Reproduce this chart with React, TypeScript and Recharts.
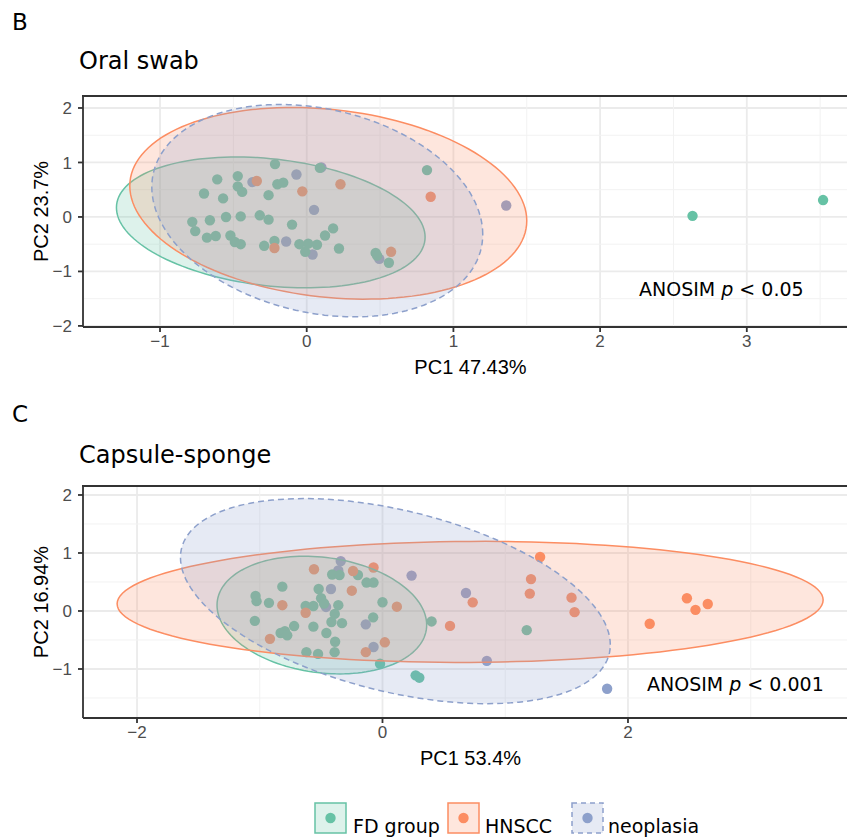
import React from "react";
import { ScatterChart, Scatter, XAxis, YAxis, CartesianGrid, ReferenceLine } from "recharts";

type Pt = [number, number];

const groupNames = ["FD group", "HNSCC", "neoplasia"];
const groupColors = ["#66c2a5", "#fc8d62", "#8da0cb"];

// Panel B - oral swab
const oralFD: Pt[] = [
  [-0.216, 0.97], [0.09, 0.9], [0.82, 0.86], [-0.61, 0.69], [-0.47, 0.75], [-0.47, 0.56],
  [-0.44, 0.46], [-0.7, 0.43], [-0.57, 0.34], [-0.26, 0.4], [-0.2, 0.6], [-0.16, 0.63],
  [-0.78, -0.09], [-0.76, -0.26], [-0.66, -0.06], [-0.55, 0.0], [-0.45, 0.01], [-0.32, 0.03],
  [-0.26, -0.05], [-0.68, -0.38], [-0.62, -0.35], [-0.52, -0.34], [-0.49, -0.46], [-0.45, -0.5],
  [-0.29, -0.53], [-0.22, -0.44], [-0.1, -0.14], [-0.05, -0.5], [0.01, -0.49], [0.07, -0.51],
  [-0.01, -0.64], [0.125, -0.34], [0.18, -0.21], [0.22, -0.58], [0.47, -0.66], [0.48, -0.71],
  [0.56, -0.84], [2.63, 0.02], [3.52, 0.31],
];
const oralHNSCC: Pt[] = [
  [-0.34, 0.66], [-0.03, 0.47], [0.23, 0.6], [0.845, 0.37], [-0.22, -0.57], [0.575, -0.64],
];
const oralNeo: Pt[] = [
  [-0.37, 0.64], [-0.07, 0.78], [0.05, 0.13], [-0.14, -0.45], [0.04, -0.69], [0.495, -0.77],
  [0.1, 0.91], [1.36, 0.21],
];
// ellipses: centre, right-most vertex, point straight above centre
const oralEllFD: Pt[] = [[-0.245, -0.1], [0.807, -0.37], [-0.245, 1.07]];
const oralEllHNSCC: Pt[] = [[0.147, 0.25], [1.5, -0.07], [0.147, 1.98]];
const oralEllNeo: Pt[] = [[0.072, 0.115], [1.2, -0.32], [0.072, 2.015]];

// Panel C - capsule-sponge
const capFD: Pt[] = [
  [-0.816, 0.42], [-1.034, 0.26], [-1.026, 0.17], [-0.925, 0.14], [-1.04, -0.17], [-0.83, -0.38],
  [-0.795, -0.35], [-0.776, -0.42], [-0.72, -0.26], [-0.626, 0.086], [-0.563, 0.086], [-0.52, 0.38],
  [-0.5, 0.22], [-0.476, 0.13], [-0.563, -0.27], [-0.457, -0.38], [-0.416, -0.19], [-0.389, -0.05],
  [-0.36, 0.1], [-0.386, -0.53], [-0.39, -0.71], [-0.33, -0.21], [-0.41, 0.63], [-0.35, 0.62],
  [-0.2, 0.62], [-0.13, 0.49], [-0.073, 0.49], [0.0, 0.15], [-0.076, -0.11], [-0.62, -0.71],
  [-0.525, -0.74], [-0.02, -0.91], [0.27, -1.11], [0.3, -1.15], [0.4, -0.18], [1.175, -0.33],
];
const capHNSCC: Pt[] = [
  [-0.558, 0.72], [-0.816, 0.1], [-0.626, -0.03], [-0.917, -0.48], [-0.24, 0.69], [-0.073, 0.75],
  [-0.25, 0.35], [0.117, 0.074], [-0.136, -0.71], [0.019, -0.54], [0.735, 0.149], [0.55, -0.257],
  [1.284, 0.93], [1.21, 0.55], [1.2, 0.3], [1.54, 0.23], [1.565, -0.02], [2.177, -0.22],
  [2.48, 0.22], [2.55, 0.02], [2.65, 0.12],
];
const capNeo: Pt[] = [
  [-0.34, 0.86], [-0.36, 0.7], [-0.42, 0.38], [-0.46, 0.07], [-0.136, -0.23], [-0.073, -0.62],
  [0.237, 0.61], [0.68, 0.31], [0.85, -0.86], [1.83, -1.34],
];
const capEllFD: Pt[] = [[-0.494, -0.07], [0.36, -0.24], [-0.494, 0.93]];
const capEllHNSCC: Pt[] = [[0.714, 0.157], [3.59, 0.19], [0.714, 1.2]];
const capEllNeo: Pt[] = [[0.105, 0.17], [1.856, -0.583], [0.105, 1.77]];

const oralXTicks = [-1, 0, 1, 2, 3];
const oralXMinor = [-0.5, 0.5, 1.5, 2.5, 3.5];
const oralYTicks = [-2, -1, 0, 1, 2];
const oralYMinor = [-1.5, -0.5, 0.5, 1.5];
const capXTicks = [-2, 0, 2];
const capXMinor = [-1, 1, 3];
const capYTicks = [-1, 0, 1, 2];
const capYMinor = [-1.5, -0.5, 0.5, 1.5];

const rows = (pts: Pt[]) => pts.map(([x, y]) => ({ x, y }));
const minus = (v: number) => String(v).replace("-", "\u2212");
const axisFont = "Liberation Sans, Arial, sans-serif";
const textFont = "DejaVu Sans, Verdana, sans-serif";

const dot = (color: string) => (p: any) => (
  <circle cx={p.cx} cy={p.cy} r={5.2} fill={color} />
);

const ellipseLine = (color: string, dashed: boolean) => (p: any) => {
  const pts = p.points;
  if (!pts || pts.length < 3) return <g />;
  const [c, r, t] = pts;
  const ux = r.x - c.x, uy = r.y - c.y, vx = t.x - c.x, vy = t.y - c.y;
  let d = "";
  for (let i = 0; i <= 144; i++) {
    const a = (i / 144) * Math.PI * 2;
    const x = c.x + ux * Math.cos(a) + vx * Math.sin(a);
    const y = c.y + uy * Math.cos(a) + vy * Math.sin(a);
    d += (i === 0 ? "M" : "L") + x.toFixed(2) + "," + y.toFixed(2);
  }
  return (
    <path
      d={d + "Z"}
      fill={color}
      fillOpacity={0.22}
      stroke={color}
      strokeWidth={1.5}
      strokeDasharray={dashed ? "6 4" : undefined}
    />
  );
};

const yTitle = (text: string) => (props: any) => {
  const vb = props.viewBox || {};
  const y = (vb.y ?? 0) + (vb.height ?? 0) / 2;
  return (
    <text x={41} y={y} transform={`rotate(-90, 41, ${y})`} textAnchor="middle"
      dominantBaseline="central" fontFamily={axisFont} fontSize={20} fill="#000">
      {text}
    </text>
  );
};

const xTitle = (text: string) => (props: any) => {
  const vb = props.viewBox || {};
  return (
    <text x={(vb.x ?? 0) + (vb.width ?? 0) / 2} y={(vb.y ?? 0) + 47} textAnchor="middle"
      fontFamily={axisFont} fontSize={20} fill="#000">
      {text}
    </text>
  );
};

type PanelProps = {
  top: number;
  height: number;
  marginTop: number;
  marginBottom: number;
  xDomain: [number, number];
  yDomain: [number, number];
  xTicks: number[];
  yTicks: number[];
  xMinor: number[];
  yMinor: number[];
  points: Pt[][];
  ellipses: Pt[][];
  xLabel: string;
  yLabel: string;
};

function Panel(p: PanelProps) {
  const tickStyle = { fill: "#4d4d4d", fontSize: 17, fontFamily: axisFont };
  const line = { stroke: "#333333", strokeWidth: 1.8 };
  // draw order: neoplasia, FD, HNSCC points; ellipses on top
  const pointOrder = [2, 0, 1];
  return (
    <div style={{ position: "absolute", left: 0, top: p.top }}>
      <ScatterChart width={870} height={p.height}
        margin={{ top: p.marginTop, right: 12, bottom: p.marginBottom, left: 0 }}>
        <CartesianGrid stroke="#ebebeb" strokeWidth={1.8} />
        {p.xMinor.map((v) => (
          <ReferenceLine key={"vx" + v} x={v} stroke="#f2f2f2" strokeWidth={1} />
        ))}
        {p.yMinor.map((v) => (
          <ReferenceLine key={"hy" + v} y={v} stroke="#f2f2f2" strokeWidth={1} />
        ))}
        <XAxis type="number" dataKey="x" domain={p.xDomain} ticks={p.xTicks} allowDataOverflow
          height={50} tick={tickStyle} tickLine={line} axisLine={line} tickSize={5} tickMargin={3}
          tickFormatter={minus} label={xTitle(p.xLabel)} />
        <YAxis type="number" dataKey="y" domain={p.yDomain} ticks={p.yTicks} allowDataOverflow
          width={83} tick={tickStyle} tickLine={line} axisLine={line} tickSize={5} tickMargin={6}
          tickFormatter={minus} label={yTitle(p.yLabel)} />
        {pointOrder.map((g) => (
          <Scatter key={"pts" + g} name={groupNames[g]} data={rows(p.points[g])}
            shape={dot(groupColors[g])} isAnimationActive={false} legendType="none" />
        ))}
        {p.ellipses.map((e, g) => (
          <Scatter key={"ell" + g} data={rows(e)} shape={() => <g />}
            line={ellipseLine(groupColors[g], g === 2)} isAnimationActive={false} legendType="none" />
        ))}
      </ScatterChart>
    </div>
  );
}

function LegendKey({ x, g }: { x: number; g: number }) {
  return (
    <g>
      <rect x={x} y={803} width={31} height={30} fill={groupColors[g]} fillOpacity={0.22}
        stroke={groupColors[g]} strokeWidth={1.5} strokeDasharray={g === 2 ? "5 4" : undefined} />
      <circle cx={x + 15.5} cy={818} r={5.2} fill={groupColors[g]} />
    </g>
  );
}

export default function App() {
  return (
    <div style={{ position: "absolute", left: 0, top: 0, width: 847, height: 839,
      overflow: "hidden", background: "#fff" }}>
      <Panel top={0} height={400} marginTop={96} marginBottom={23}
        xDomain={[-1.525, 3.758]} yDomain={[-2.02, 2.22]}
        xTicks={oralXTicks} yTicks={oralYTicks} xMinor={oralXMinor} yMinor={oralYMinor}
        points={[oralFD, oralHNSCC, oralNeo]} ellipses={[oralEllFD, oralEllHNSCC, oralEllNeo]}
        xLabel="PC1 47.43%" yLabel="PC2 23.7%" />
      <Panel top={400} height={390} marginTop={86} marginBottom={22}
        xDomain={[-2.44, 3.874]} yDomain={[-1.845, 2.155]}
        xTicks={capXTicks} yTicks={capYTicks} xMinor={capXMinor} yMinor={capYMinor}
        points={[capFD, capHNSCC, capNeo]} ellipses={[capEllFD, capEllHNSCC, capEllNeo]}
        xLabel="PC1 53.4%" yLabel="PC2 16.94%" />
      <svg width={847} height={839} style={{ position: "absolute", left: 0, top: 0, pointerEvents: "none" }}>
        {/* top edge of each panel frame */}
        <line x1={82} y1={96} x2={847} y2={96} stroke="#333333" strokeWidth={1.8} />
        <line x1={82} y1={486} x2={847} y2={486} stroke="#333333" strokeWidth={1.8} />
        <g fontFamily={textFont} fill="#000">
          <text x={12} y={30} fontSize={23}>B</text>
          <text x={79} y={69} fontSize={24}>Oral swab</text>
          <text x={639} y={296} fontSize={19}>
            ANOSIM <tspan fontStyle="italic">p</tspan> &lt; 0.05
          </text>
          <text x={12} y={422} fontSize={23}>C</text>
          <text x={79} y={463} fontSize={24}>Capsule-sponge</text>
          <text x={647} y={691} fontSize={19}>
            ANOSIM <tspan fontStyle="italic">p</tspan> &lt; 0.001
          </text>
          <LegendKey x={315} g={0} />
          <text x={353} y={833} fontSize={19}>{groupNames[0]}</text>
          <LegendKey x={448} g={1} />
          <text x={485} y={833} fontSize={19}>{groupNames[1]}</text>
          <LegendKey x={572} g={2} />
          <text x={608} y={833} fontSize={19}>{groupNames[2]}</text>
        </g>
      </svg>
    </div>
  );
}
